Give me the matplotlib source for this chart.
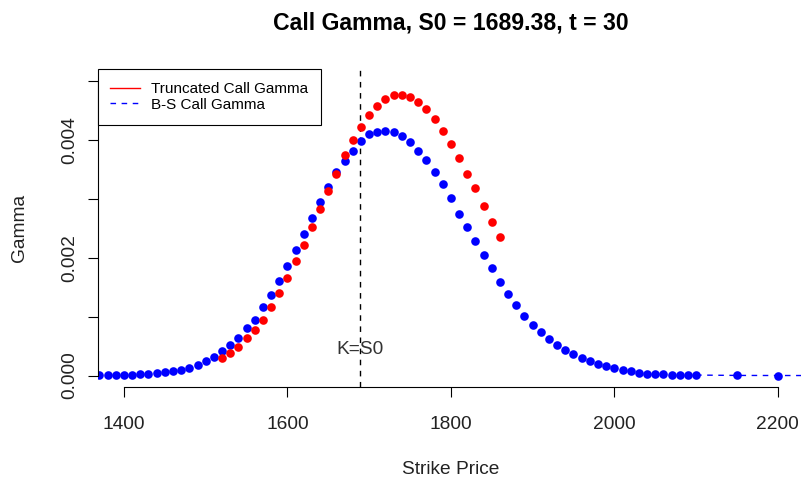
import matplotlib
matplotlib.use("Agg")
import matplotlib.pyplot as plt
from matplotlib.lines import Line2D

plt.rcParams['font.family'] = ['Liberation Sans', 'DejaVu Sans']

# Black-Scholes call gamma by strike
bs_strikes = [1370, 1380, 1390, 1400, 1410, 1420, 1430, 1440, 1450, 1460,
              1470, 1480, 1490, 1500, 1510, 1520, 1530, 1540, 1550, 1560,
              1570, 1580, 1590, 1600, 1610, 1620, 1630, 1640, 1650, 1660,
              1670, 1680, 1690, 1700, 1710, 1720, 1730, 1740, 1750, 1760,
              1770, 1780, 1790, 1800, 1810, 1820, 1830, 1840, 1850, 1860,
              1870, 1880, 1890, 1900, 1910, 1920, 1930, 1940, 1950, 1960,
              1970, 1980, 1990, 2000, 2010, 2020, 2030, 2040, 2050, 2060,
              2070, 2080, 2090, 2100, 2150, 2200, 2250, 2300]
bs_gamma = [0.000003, 0.000004, 0.000006, 0.000009, 0.000013, 0.000020,
            0.000028, 0.000040, 0.000055, 0.000075, 0.00010, 0.00013,
            0.00018, 0.00024, 0.00031, 0.00041, 0.00052, 0.00063, 0.00080,
            0.00095, 0.00117, 0.00137, 0.00161, 0.00186, 0.00213, 0.00241,
            0.00267, 0.00295, 0.00321, 0.00345, 0.00365, 0.00382, 0.00398,
            0.00410, 0.00414, 0.00416, 0.00414, 0.00407, 0.00396, 0.00382,
            0.00366, 0.00346, 0.00325, 0.00301, 0.00275, 0.00253, 0.00228,
            0.00205, 0.00182, 0.00159, 0.00138, 0.00119, 0.00101, 0.00086,
            0.00074, 0.00062, 0.00052, 0.00043, 0.00036, 0.00029, 0.00024,
            0.00020, 0.00016, 0.00012, 0.00009, 0.00007, 0.00005, 0.00003,
            0.000025, 0.00002, 0.000015, 0.000012, 0.00001, 0.000008,
            0.000002, 0.0000005, 0.0000001, 0.0]

# Truncated call gamma by strike
tr_strikes = [1520, 1530, 1540, 1550, 1560, 1570, 1580, 1590, 1600, 1610,
              1620, 1630, 1640, 1650, 1660, 1670, 1680, 1690, 1700, 1710,
              1720, 1730, 1740, 1750, 1760, 1770, 1780, 1790, 1800, 1810,
              1820, 1830, 1840, 1850, 1860]
tr_gamma = [0.00029, 0.00039, 0.00048, 0.00063, 0.00077, 0.00095, 0.00117,
            0.00141, 0.00165, 0.00195, 0.00222, 0.00253, 0.00283, 0.00314,
            0.00343, 0.00374, 0.00400, 0.00422, 0.00443, 0.00458, 0.00469,
            0.00476, 0.00477, 0.00473, 0.00464, 0.00452, 0.00436, 0.00416,
            0.00394, 0.00369, 0.00343, 0.00318, 0.00288, 0.00261, 0.00235]

S0 = 1689.38
x_ticks = [1400, 1600, 1800, 2000, 2200]
y_ticks = [0.000, 0.001, 0.002, 0.003, 0.004, 0.005]
y_ticklabels = ["0.000", "", "0.002", "", "0.004", ""]

BLUE = '#0000FF'
RED = '#FF0000'
BASE = 13.8
DASH = (0, (4, 4))

fig = plt.figure(figsize=(8.01, 4.79), dpi=100)
ax = fig.add_axes([0.1221, 0.1914, 0.8816, 0.6639])

# B-S gamma: points, with a dashed connector across the sparse far tail
tail = bs_strikes.index(2100)
ax.plot(bs_strikes[tail:], bs_gamma[tail:], color=BLUE, linestyle=DASH,
        linewidth=1, zorder=1.5)
ax.plot(bs_strikes, bs_gamma, linestyle='none', marker='o', markersize=6.2,
        markeredgewidth=0, color=BLUE, zorder=2)
# Truncated gamma: points
ax.plot(tr_strikes, tr_gamma, linestyle='none', marker='o', markersize=6.2,
        markeredgewidth=0, color=RED, zorder=3)

ax.axvline(S0, color='black', linestyle=DASH, linewidth=1, zorder=1)
ax.text(S0, 0.00045, 'K=S0', ha='center', va='center', fontsize=BASE,
        color='#333333')

ax.set_xlim(1368, 2232)
ax.set_ylim(-0.0002, 0.0052)

ax.set_xticks(x_ticks)
ax.set_xticklabels([str(v) for v in x_ticks])
ax.set_yticks(y_ticks)
ax.set_yticklabels(y_ticklabels, rotation=90, va='center')

for side in ['top', 'right']:
    ax.spines[side].set_visible(False)
ax.spines['left'].set_bounds(0, 0.005)
ax.spines['bottom'].set_bounds(1400, 2200)
for side in ['left', 'bottom']:
    ax.spines[side].set_linewidth(0.8)

ax.tick_params(axis='x', length=7.5, width=0.8, pad=13.5, labelsize=BASE,
               labelcolor='#222222')
ax.tick_params(axis='y', length=7.5, width=0.8, pad=6.5, labelsize=BASE,
               labelcolor='#222222')

ax.set_xlabel('Strike Price', fontsize=BASE, labelpad=20, color='#222222')
ax.set_ylabel('Gamma', fontsize=BASE, labelpad=24, color='#222222')

fig.text(451 / 801, 1 - 23 / 479, 'Call Gamma, S0 = 1689.38, t = 30',
         ha='center', va='center', fontsize=16.6, fontweight='bold')

leg_handles = [Line2D([], [], color=RED, linewidth=1),
               Line2D([], [], color=BLUE, linewidth=1, linestyle=DASH)]
leg = ax.legend(leg_handles, ['Truncated Call Gamma', 'B-S Call Gamma'],
                loc='upper left', bbox_to_anchor=(0, 1), borderaxespad=0,
                fancybox=False, framealpha=1, edgecolor='black',
                fontsize=11, handlelength=1.9, handletextpad=0.76,
                labelspacing=0.12, borderpad=0.83)
leg.get_frame().set_linewidth(0.8)

fig.savefig('out.png', dpi=100)
